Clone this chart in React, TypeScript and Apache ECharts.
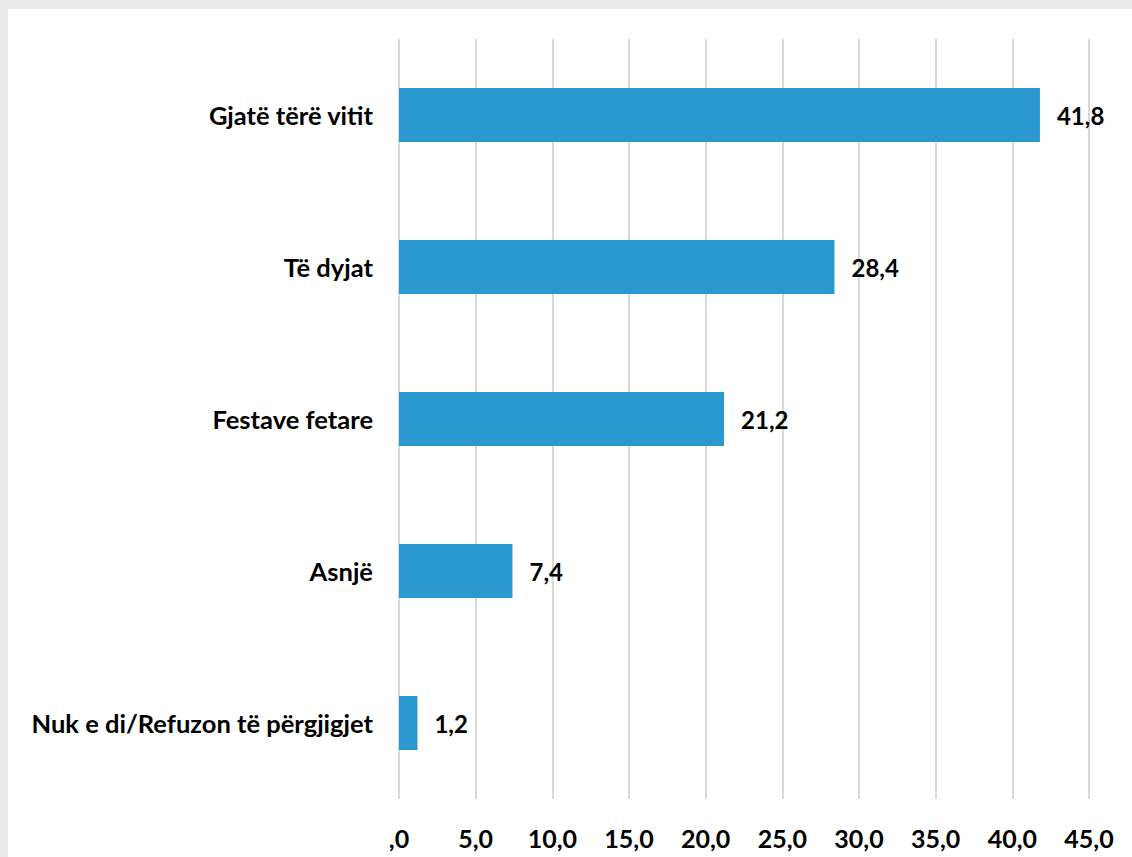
import React, { useEffect, useRef } from "react";
import * as echarts from "echarts";

const categories = [
  "Gjatë tërë vitit",
  "Të dyjat",
  "Festave fetare",
  "Asnjë",
  "Nuk e di/Refuzon të përgjigjet",
];
const values = [41.8, 28.4, 21.2, 7.4, 1.2];
const axisMin = 0;
const axisMax = 45;
const axisInterval = 5;

const fmt = (v: number) => (v === 0 ? ",0" : v.toFixed(1).replace(".", ","));

export default function App() {
  const ref = useRef<HTMLDivElement>(null);
  useEffect(() => {
    document.body.style.margin = "0";
    const chart = echarts.init(ref.current!, undefined, { renderer: "svg" });
    chart.setOption({
      animation: false,
      backgroundColor: "#ffffff",
      grid: { left: 391, top: 30, width: 690, height: 760, containLabel: false },
      xAxis: {
        type: "value",
        min: axisMin,
        max: axisMax,
        interval: axisInterval,
        axisLine: { show: false },
        axisTick: { show: false },
        splitLine: { show: true, lineStyle: { color: "#d9d9d9", width: 2 } },
        axisLabel: {
          margin: 26,
          formatter: (v: number) => fmt(v),
          color: "#000",
          fontFamily: "Lato",
          fontWeight: "bold",
          fontSize: 25,
        },
      },
      yAxis: {
        type: "category",
        data: categories,
        inverse: true,
        axisLine: { show: false },
        axisTick: { show: false },
        axisLabel: {
          margin: 26,
          color: "#000",
          fontFamily: "Lato",
          fontWeight: "bold",
          fontSize: 25.5,
        },
      },
      series: [
        {
          type: "bar",
          data: values,
          barWidth: 54,
          itemStyle: { color: "#2a98d0" },
          label: {
            show: true,
            position: "right",
            distance: 17,
            formatter: (p: any) => fmt(p.value),
            color: "#000",
            fontFamily: "Lato",
            fontWeight: "bold",
            fontSize: 24,
          },
        },
      ],
    });
    return () => chart.dispose();
  }, []);
  return (
    <div style={{ position: "relative", width: 1132, height: 857, background: "#ebebeb", overflow: "hidden" }}>
      <div
        ref={ref}
        style={{ position: "absolute", left: 8, top: 9, width: 1124, height: 848, background: "#fff" }}
      />
    </div>
  );
}
